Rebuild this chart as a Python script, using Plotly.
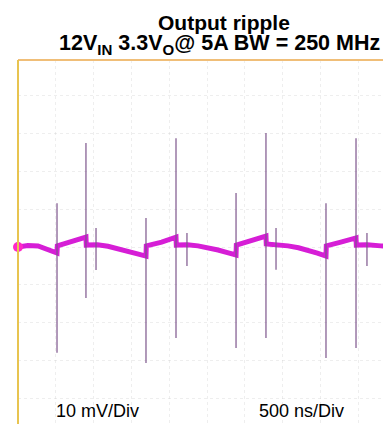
import plotly.graph_objects as go

# scope capture: 500 ns/div, 10 mV/div
ripple_t = [0, 130, 265, 400, 516, 520, 700, 899, 903, 1050, 1190, 1330, 1455, 1580, 1693,
            1697, 1900, 2090, 2094, 2240, 2381, 2520, 2646, 2770, 2884, 2888, 3080, 3280,
            3284, 3430, 3571, 3710, 3836, 3960, 4074, 4078, 4270, 4471, 4475, 4620, 4800, 5000]
ripple_mv = [0.0, 0.4, 0.3, -0.6, -1.6, 0.3, 1.3, 2.6, 0.5, 0.6, 0.2, -0.4, -1.1, -1.8, -2.4,
             0.3, 1.3, 2.6, 0.5, 0.6, 0.3, -0.2, -0.8, -1.5, -2.1, 0.5, 1.6, 2.9,
             0.8, 0.7, 0.3, -0.2, -0.8, -1.6, -2.4, 0.3, 1.3, 2.4, 0.5, 0.6, 0.3, 0.0]

spike_t = [516, 899, 1032, 1693, 2090, 2235, 2884, 3280, 3413, 4074, 4471, 4616]
spike_top = [11.6, 27.5, 5.0, 7.7, 28.8, 3.7, 14.3, 30.2, 5.0, 11.6, 28.8, 3.7]
spike_bot = [-28.0, -13.5, -6.1, -30.7, -24.1, -5.0, -26.7, -24.1, -6.0, -29.4, -26.7, -5.0]

title_1 = "<b>Output ripple</b>"
title_2 = "<b>12V<sub>IN</sub> 3.3V<sub>O</sub>@ 5A BW = 250 MHz</b>"
volts_per_div = "10 mV/Div"
time_per_div = "500 ns/Div"

W, H = 391, 424
L, R, T, B = 10, 3, 52, 1
FONT = "Liberation Sans, Arial"

fig = go.Figure()

fig.add_trace(go.Scatter(
    x=ripple_t, y=ripple_mv, mode="lines",
    line=dict(color="rgb(214,30,214)", width=5),
    hoverinfo="skip"))

sx, sy = [], []
for t, a, b in zip(spike_t, spike_top, spike_bot):
    sx += [t, t, None]
    sy += [a, b, None]
fig.add_trace(go.Scatter(
    x=sx, y=sy, mode="lines",
    line=dict(color="rgb(125,85,140)", width=1.2),
    hoverinfo="skip"))

# channel marker on the left edge
fig.add_trace(go.Scatter(
    x=[ripple_t[0]], y=[ripple_mv[0]], mode="markers",
    marker=dict(color="rgb(255,40,200)", size=10),
    cliponaxis=False, hoverinfo="skip"))

pw = W - L - R
fig.add_annotation(text=title_1, xref="paper", yref="paper", x=(148 - L) / pw, y=1, yshift=38,
                   xanchor="left", yanchor="middle", align="left", showarrow=False,
                   font=dict(family=FONT, size=21, color="black"))
fig.add_annotation(text=title_2, xref="paper", yref="paper", x=(49 - L) / pw, y=1, yshift=16,
                   xanchor="left", yanchor="middle", align="left", showarrow=False,
                   font=dict(family=FONT, size=21.5, color="black"))

fig.add_annotation(text=volts_per_div, xref="x", yref="y", x=1045, y=-43.4,
                   showarrow=False, font=dict(family=FONT, size=18, color="black"))
fig.add_annotation(text=time_per_div, xref="x", yref="y", x=3756, y=-43.4,
                   showarrow=False, font=dict(family=FONT, size=18, color="black"))

# screen border: orange top, yellow left
fig.add_shape(type="line", xref="paper", yref="paper", x0=0, x1=1, y0=1, y1=1,
              line=dict(color="rgb(240,190,120)", width=2))
fig.add_shape(type="line", xref="paper", yref="paper", x0=0, x1=0, y0=0, y1=1,
              line=dict(color="rgb(232,196,80)", width=2))
fig.add_shape(type="line", xref="paper", yref="paper", x0=1, x1=1, y0=0, y1=1,
              line=dict(color="rgb(242,215,170)", width=2))

grid = dict(showgrid=True, gridcolor="rgba(200,200,200,0.3)", griddash="dot", gridwidth=1,
            showticklabels=False, zeroline=False, ticks="", showline=False)
fig.update_xaxes(range=[0, 5000], dtick=500, tick0=0, **grid)
fig.update_yaxes(range=[-48.7, 49.5], dtick=10, tick0=0, **grid)

fig.update_layout(
    width=W, height=H,
    margin=dict(l=L, r=R, t=T, b=B),
    paper_bgcolor="white", plot_bgcolor="white",
    showlegend=False)

fig.write_html("out.html")
